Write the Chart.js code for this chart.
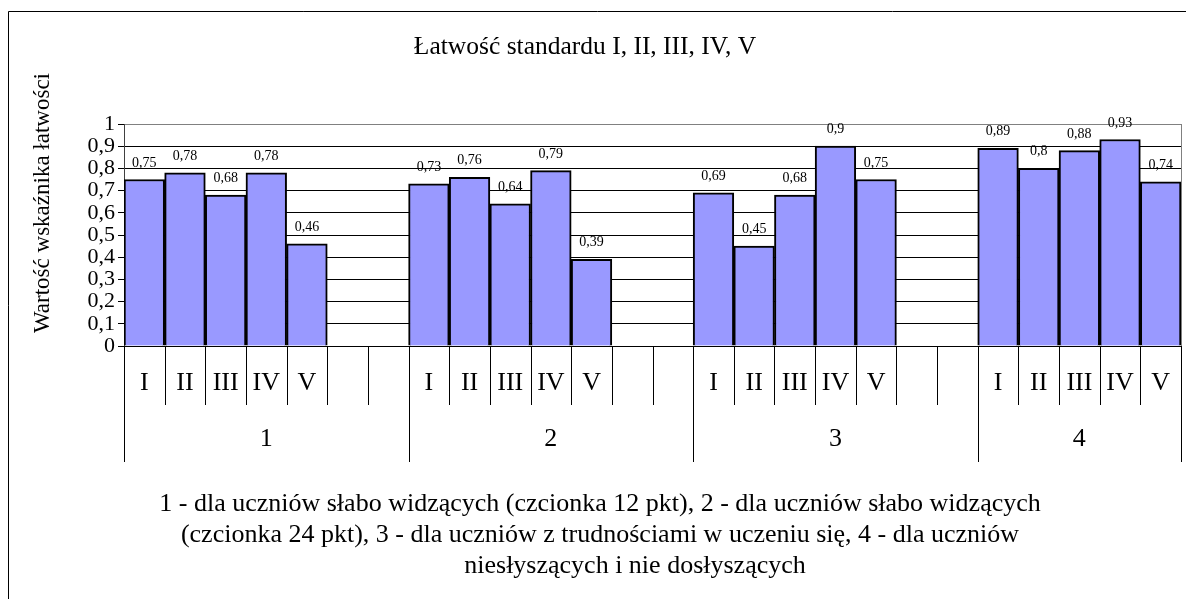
<!DOCTYPE html>
<html>
<head>
<meta charset="utf-8">
<script src="https://cdn.jsdelivr.net/npm/chart.js@4.4.1/dist/chart.umd.min.js"></script>
<style>
  html, body { margin: 0; padding: 0; background: #fff; }
  #wrap { width: 1186px; height: 599px; }
</style>
</head>
<body>
<div id="wrap"><canvas id="chart-main" width="1186" height="599"></canvas></div>
<script>
/* global Chart */

// data
const groupNames = ["1", "2", "3", "4"];
const standardNames = ["I", "II", "III", "IV", "V"];
const slotsPerGroup = [7, 7, 7, 5];
const group1 = [0.75, 0.78, 0.68, 0.78, 0.46];
const group2 = [0.73, 0.76, 0.64, 0.79, 0.39];
const group3 = [0.69, 0.45, 0.68, 0.9, 0.75];
const group4 = [0.89, 0.8, 0.88, 0.93, 0.74];
const yTicks = [0, 0.1, 0.2, 0.3, 0.4, 0.5, 0.6, 0.7, 0.8, 0.9, 1];

const chartTitle = "Łatwość standardu I, II, III, IV, V";
const yTitle = "Wartość wskaźnika łatwości";
const footnote = [
  "1 - dla uczniów słabo widzących (czcionka 12 pkt), 2 - dla uczniów słabo widzących",
  "(czcionka 24 pkt), 3 - dla uczniów z trudnościami w uczeniu się, 4 - dla uczniów",
  "niesłyszących i nie dosłyszących",
];
const footnoteCenters = [600, 600, 635];

const SERIF = '"Liberation Serif", "Times New Roman", serif';

// flatten groups into one category axis, empty slots pad groups 1-3
const allGroups = [group1, group2, group3, group4];
const labels = [];
const values = [];
const groupOf = [];
allGroups.forEach((g, gi) => {
  for (let s = 0; s < slotsPerGroup[gi]; s++) {
    labels.push(standardNames[s] || "");
    values.push(s < g.length ? g[s] : null);
    groupOf.push(gi);
  }
});

const fmt = (v) => String(Math.round(v * 100) / 100).replace(".", ",");

const decor = {
  id: "decor",
  afterDraw(chart) {
    const ctx = chart.ctx;
    const area = chart.chartArea;
    const xs = chart.scales.x;
    ctx.save();

    // outer chart frame
    ctx.strokeStyle = "#000";
    ctx.lineWidth = 1;
    ctx.beginPath();
    ctx.moveTo(8.5, 700);
    ctx.lineTo(8.5, 11.5);
    ctx.lineTo(1200, 11.5);
    ctx.stroke();

    // plot area right border
    ctx.strokeStyle = "#808080";
    ctx.beginPath();
    ctx.moveTo(Math.round(area.right) + 0.5, area.top);
    ctx.lineTo(Math.round(area.right) + 0.5, area.bottom);
    ctx.stroke();

    // title
    ctx.fillStyle = "#000";
    ctx.font = `25.5px ${SERIF}`;
    ctx.textAlign = "center";
    ctx.textBaseline = "alphabetic";
    ctx.fillText(chartTitle, 585, 54);

    // y axis title
    ctx.save();
    ctx.translate(49, 203);
    ctx.rotate(-Math.PI / 2);
    ctx.font = `23px ${SERIF}`;
    ctx.fillText(yTitle, 0, 0);
    ctx.restore();

    // data labels
    const meta = chart.getDatasetMeta(0);
    ctx.font = `14px ${SERIF}`;
    meta.data.forEach((bar, i) => {
      if (values[i] == null) return;
      ctx.fillText(fmt(values[i]), bar.x, bar.y - 13);
    });

    // two-level category axis
    const half = (xs.getPixelForValue(1) - xs.getPixelForValue(0)) / 2;
    const y0 = area.bottom;
    const row1 = 405;
    const row2 = 462;
    ctx.strokeStyle = "#000";
    for (let i = 0; i <= labels.length; i++) {
      const x = Math.round(i < labels.length ? xs.getPixelForValue(i) - half : xs.getPixelForValue(i - 1) + half) + 0.5;
      const boundary = i === 0 || i === labels.length || groupOf[i] !== groupOf[i - 1];
      ctx.beginPath();
      ctx.moveTo(x, y0);
      ctx.lineTo(x, boundary ? row2 : row1);
      ctx.stroke();
    }
    ctx.font = `26px ${SERIF}`;
    ctx.textBaseline = "middle";
    labels.forEach((lab, i) => {
      if (lab) ctx.fillText(lab, xs.getPixelForValue(i), 383);
    });
    groupNames.forEach((name, gi) => {
      const idx = groupOf.map((g, i) => (g === gi ? i : -1)).filter((i) => i >= 0);
      const cx = (xs.getPixelForValue(idx[0]) + xs.getPixelForValue(idx[idx.length - 1])) / 2;
      ctx.fillText(name, cx, 439);
    });

    // footnote under the axis
    ctx.font = `26px ${SERIF}`;
    ctx.textBaseline = "alphabetic";
    footnote.forEach((line, k) => {
      ctx.fillText(line, footnoteCenters[k], 511 + k * 31);
    });

    ctx.restore();
  },
};

new Chart(document.getElementById("chart-main").getContext("2d"), {
  type: "bar",
  data: {
    labels,
    datasets: [
      {
        data: values,
        backgroundColor: "#9999ff",
        borderColor: "#000",
        borderWidth: 2,
        barPercentage: 1,
        categoryPercentage: 1,
      },
    ],
  },
  options: {
    responsive: false,
    animation: false,
    devicePixelRatio: 1,
    layout: { padding: { left: 0, top: 124, right: 5, bottom: 253 } },
    plugins: { legend: { display: false }, tooltip: { enabled: false }, title: { display: false } },
    scales: {
      x: { display: false, offset: true },
      y: {
        min: 0,
        max: 1,
        afterFit: (s) => { s.width = 124; },
        afterBuildTicks: (s) => { s.ticks = yTicks.map((v) => ({ value: v })); },
        ticks: {
          color: "#000",
          padding: 3,
          autoSkip: false,
          font: { family: SERIF, size: 22 },
          callback: (v) => fmt(v),
        },
        grid: {
          color: (c) => (c.tick && c.tick.value === 1 ? "#808080" : "#000"),
          tickColor: "#000",
          tickLength: 6,
          lineWidth: 1,
        },
        border: { color: "#404040" },
      },
    },
  },
  plugins: [decor],
});
</script>
</body>
</html>
